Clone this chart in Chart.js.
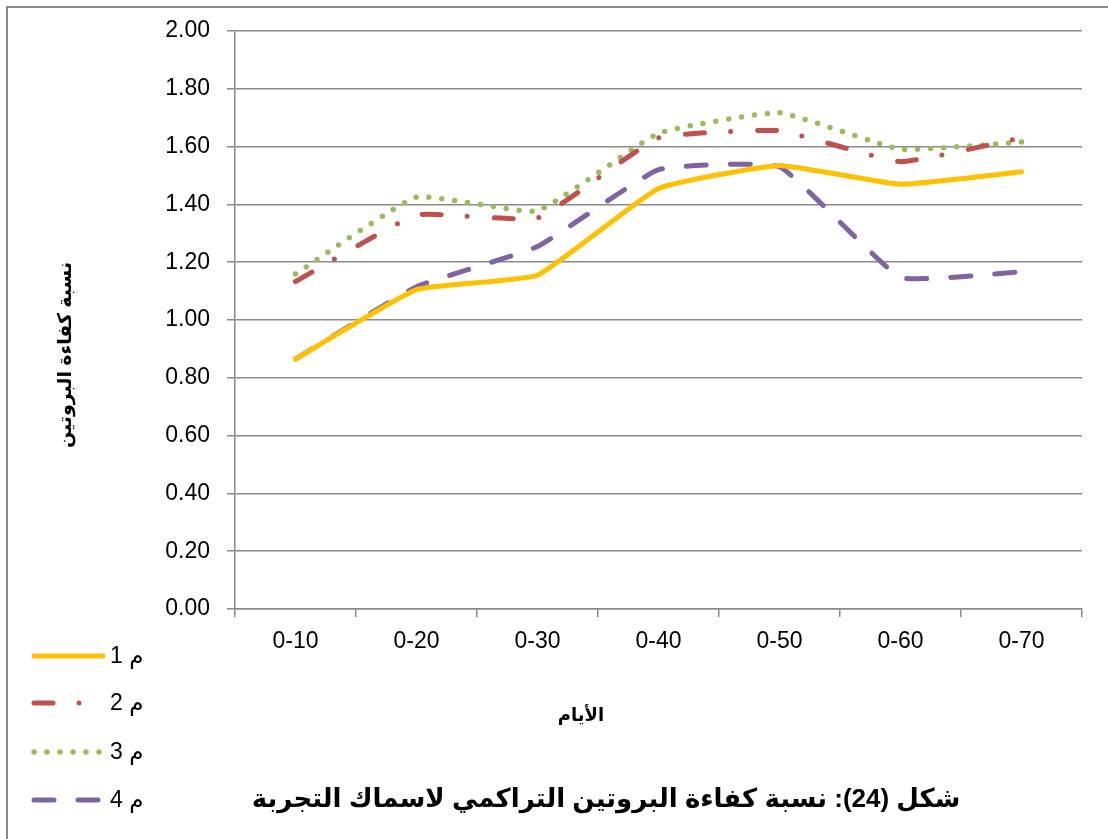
<!DOCTYPE html>
<html>
<head>
<meta charset="utf-8">
<script src="https://cdn.jsdelivr.net/npm/chart.js@4/dist/chart.umd.min.js"></script>
<style>
  html, body { margin: 0; padding: 0; background: #ffffff; }
  #wrap { width: 1108px; height: 839px; position: relative; }
</style>
</head>
<body>
<div id="wrap"><canvas id="c" width="1108" height="839"></canvas></div>
<script>
// Periods (days) on the x axis
const days = ['0-10', '0-20', '0-30', '0-40', '0-50', '0-60', '0-70'];

// Cumulative protein efficiency ratio per treatment
const m1 = [0.865, 1.105, 1.155, 1.455, 1.535, 1.470, 1.513];
const m2 = [1.133, 1.363, 1.353, 1.630, 1.655, 1.548, 1.630];
const m3 = [1.159, 1.425, 1.378, 1.646, 1.717, 1.591, 1.616];
const m4 = [0.865, 1.115, 1.254, 1.520, 1.530, 1.148, 1.167];

const seriesLabels = ['م 1', 'م 2', 'م 3', 'م 4'];

// Value axis range
const yMin = 0;
const yMax = 2;
const yStep = 0.2;

const xTitle = 'الأيام';
const yTitle = 'نسبة كفاءة البروتين';
const figTitle = 'شكل (24): نسبة كفاءة البروتين التراكمي لاسماك التجربة';

const gridColor = '#8a8a8a';
const textFont = '"Liberation Sans", Arial, "DejaVu Sans", sans-serif';

const styles = [
  { color: '#FFC000', dash: [], width: 5 },
  { color: '#C0504D', dash: [19, 26, 0, 27], width: 5 },
  { color: '#9BBB59', dash: [0, 13], width: 5.5 },
  { color: '#8064A2', dash: [20, 24], width: 5 }
];

const seriesData = [m1, m2, m3, m4];

const datasets = seriesData.map((vals, i) => ({
  label: seriesLabels[i],
  data: vals,
  borderColor: styles[i].color,
  backgroundColor: styles[i].color,
  borderWidth: styles[i].width,
  borderDash: styles[i].dash,
  borderCapStyle: 'round',
  borderJoinStyle: 'round',
  pointRadius: 0,
  pointHoverRadius: 0,
  tension: 0.12,
  fill: false
}));

// Frame, axis titles, caption and the legend drawn on the canvas
const decor = {
  id: 'decor',
  afterDraw(chart) {
    const ctx = chart.ctx;
    ctx.save();

    // outer frame (top and left edges)
    ctx.strokeStyle = gridColor;
    ctx.lineWidth = 2;
    ctx.beginPath();
    ctx.moveTo(7, 839);
    ctx.lineTo(7, 7);
    ctx.lineTo(1108, 7);
    ctx.stroke();

    ctx.fillStyle = '#000000';
    ctx.direction = 'rtl';
    ctx.textAlign = 'center';
    ctx.textBaseline = 'middle';

    // y axis title
    ctx.save();
    ctx.translate(66, 355);
    ctx.rotate(-Math.PI / 2);
    ctx.font = 'bold 19px ' + textFont;
    ctx.fillText(yTitle, 0, 0);
    ctx.restore();

    // x axis title
    ctx.font = 'bold 18px ' + textFont;
    ctx.fillText(xTitle, 581, 716);

    // caption
    ctx.font = 'bold 26px ' + textFont;
    ctx.fillText(figTitle, 606, 800);

    // legend
    const rows = [656, 703, 752, 800];
    chart.data.datasets.forEach((ds, i) => {
      const y = rows[i];
      ctx.save();
      ctx.strokeStyle = ds.borderColor;
      ctx.lineWidth = ds.borderWidth;
      ctx.lineCap = 'round';
      ctx.setLineDash(ds.borderDash);
      ctx.beginPath();
      ctx.moveTo(34, y);
      ctx.lineTo(103, y);
      ctx.stroke();
      ctx.restore();

      ctx.font = '23px ' + textFont;
      ctx.direction = 'rtl';
      ctx.textAlign = 'left';
      ctx.textBaseline = 'middle';
      ctx.fillStyle = '#000000';
      ctx.fillText(ds.label, 110, y + 1);
    });

    ctx.restore();
  }
};

new Chart(document.getElementById('c'), {
  type: 'line',
  data: { labels: days, datasets: datasets },
  options: {
    responsive: false,
    animation: false,
    devicePixelRatio: 1,
    layout: { padding: { left: 0, top: 31, right: 26, bottom: 0 } },
    plugins: {
      legend: { display: false },
      title: { display: false },
      tooltip: { enabled: false }
    },
    scales: {
      x: {
        offset: true,
        grid: {
          offset: true,
          drawOnChartArea: false,
          drawTicks: true,
          tickLength: 8,
          color: gridColor,
          lineWidth: 1.5
        },
        border: { color: gridColor, width: 1.5 },
        ticks: {
          color: '#000000',
          font: { family: textFont, size: 23 },
          padding: 11,
          maxRotation: 0
        },
        afterFit(scale) { scale.height = 230; }
      },
      y: {
        min: yMin,
        max: yMax,
        grid: {
          color: gridColor,
          lineWidth: 1.5,
          drawTicks: true,
          tickLength: 8
        },
        border: { color: gridColor, width: 1.5 },
        ticks: {
          stepSize: yStep,
          color: '#000000',
          font: { family: textFont, size: 23 },
          padding: 17,
          callback: (v) => Number(v).toFixed(2)
        },
        afterFit(scale) { scale.width = 235; }
      }
    }
  },
  plugins: [decor]
});
</script>
</body>
</html>
